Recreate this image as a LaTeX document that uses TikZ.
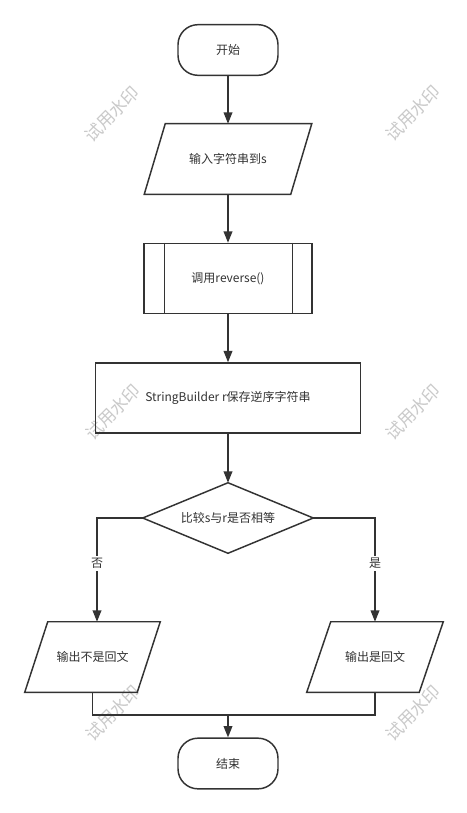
\documentclass[tikz,border=0pt]{standalone}
\usepackage{fontspec}
\setmainfont{Noto Sans CJK SC}
\usetikzlibrary{arrows.meta,calc}
\definecolor{ink}{HTML}{333333}
\definecolor{wmgray}{HTML}{CACACA}

\begin{document}
\begin{tikzpicture}[x=0.75pt,y=-0.75pt,
  every node/.style={font=\fontsize{9pt}{11pt}\selectfont, text=ink},
  line/.style={draw=ink, line width=1.1pt},
  flow/.style={line, -{Triangle[length=8.5pt,width=6.5pt]}},
  term/.style={line, rounded corners=15pt, minimum width=75pt, minimum height=38pt, inner sep=0pt},
  box/.style={minimum height=52.5pt, inner sep=0pt},
  wm/.style={rotate=45, text=wmgray, font=\fontsize{13pt}{15pt}\selectfont},
  lbl/.style={fill=white, inner sep=1.5pt}
]
% canvas
\fill[white] (0,0) rectangle (467,813);
\useasboundingbox (0,0) rectangle (467,813);

% trial watermarks
\node[wm] (wm1) at (112,114) {试用水印};
\node[wm] (wm2) at (413,113) {试用水印};
\node[wm] (wm3) at (113,412) {试用水印};
\node[wm] (wm4) at (413,412) {试用水印};
\node[wm] (wm5) at (113,713) {试用水印};
\node[wm] (wm6) at (413,713) {试用水印};

% start
\node[term] (start) at (228,50) {开始};

% input (parallelogram)
\node[box, minimum width=125.25pt] (input) at (228,159) {输入字符串到s};
\draw[line] ($(input.north west)+(21,0)$) -- (input.north east)
  -- ($(input.south east)+(-21,0)$) -- (input.south west) -- cycle;

% predefined process
\node[box, line, minimum width=126pt] (call) at (228,278.5) {调用reverse()};
\draw[line] ($(call.north west)+(21,0)$) -- ($(call.south west)+(21,0)$);
\draw[line] ($(call.north east)+(-20,0)$) -- ($(call.south east)+(-20,0)$);

% process
\node[box, line, minimum width=198.75pt] (sb) at (228,398) {StringBuilder r保存逆序字符串};

% decision
\node[box, minimum width=127.5pt] (cmp) at (228,518) {比较s与r是否相等};
\draw[line] (cmp.north) -- (cmp.east) -- (cmp.south) -- (cmp.west) -- cycle;

% outputs
\node[box, minimum width=101.25pt] (outN) at (92.5,657) {输出不是回文};
\draw[line] ($(outN.north west)+(23,0)$) -- (outN.north east)
  -- ($(outN.south east)+(-23,0)$) -- (outN.south west) -- cycle;
\node[box, minimum width=102pt] (outY) at (375,657) {输出是回文};
\draw[line] ($(outY.north west)+(24,0)$) -- (outY.north east)
  -- ($(outY.south east)+(-24,0)$) -- (outY.south west) -- cycle;

% end
\node[term] (stop) at (228,763.5) {结束};

% connectors
\draw[flow] (start.south) -- (input.north);
\draw[flow] (input.south) -- (call.north);
\draw[flow] (call.south) -- (sb.north);
\draw[flow] (sb.south) -- (cmp.north);
\coordinate (inN) at ($(outN.north)+(4.5,0)$);
\draw[flow] (cmp.west) -| (inN) node[lbl, pos=0.72] (lblNo) {否};
\draw[flow] (cmp.east) -| (outY.north) node[lbl, pos=0.72] (lblYes) {是};
\coordinate (join) at (228,715);
\draw[line] (outN.south) |- (join) -| (outY.south);
\draw[flow] (join) -- (stop.north);
\end{tikzpicture}
\end{document}
